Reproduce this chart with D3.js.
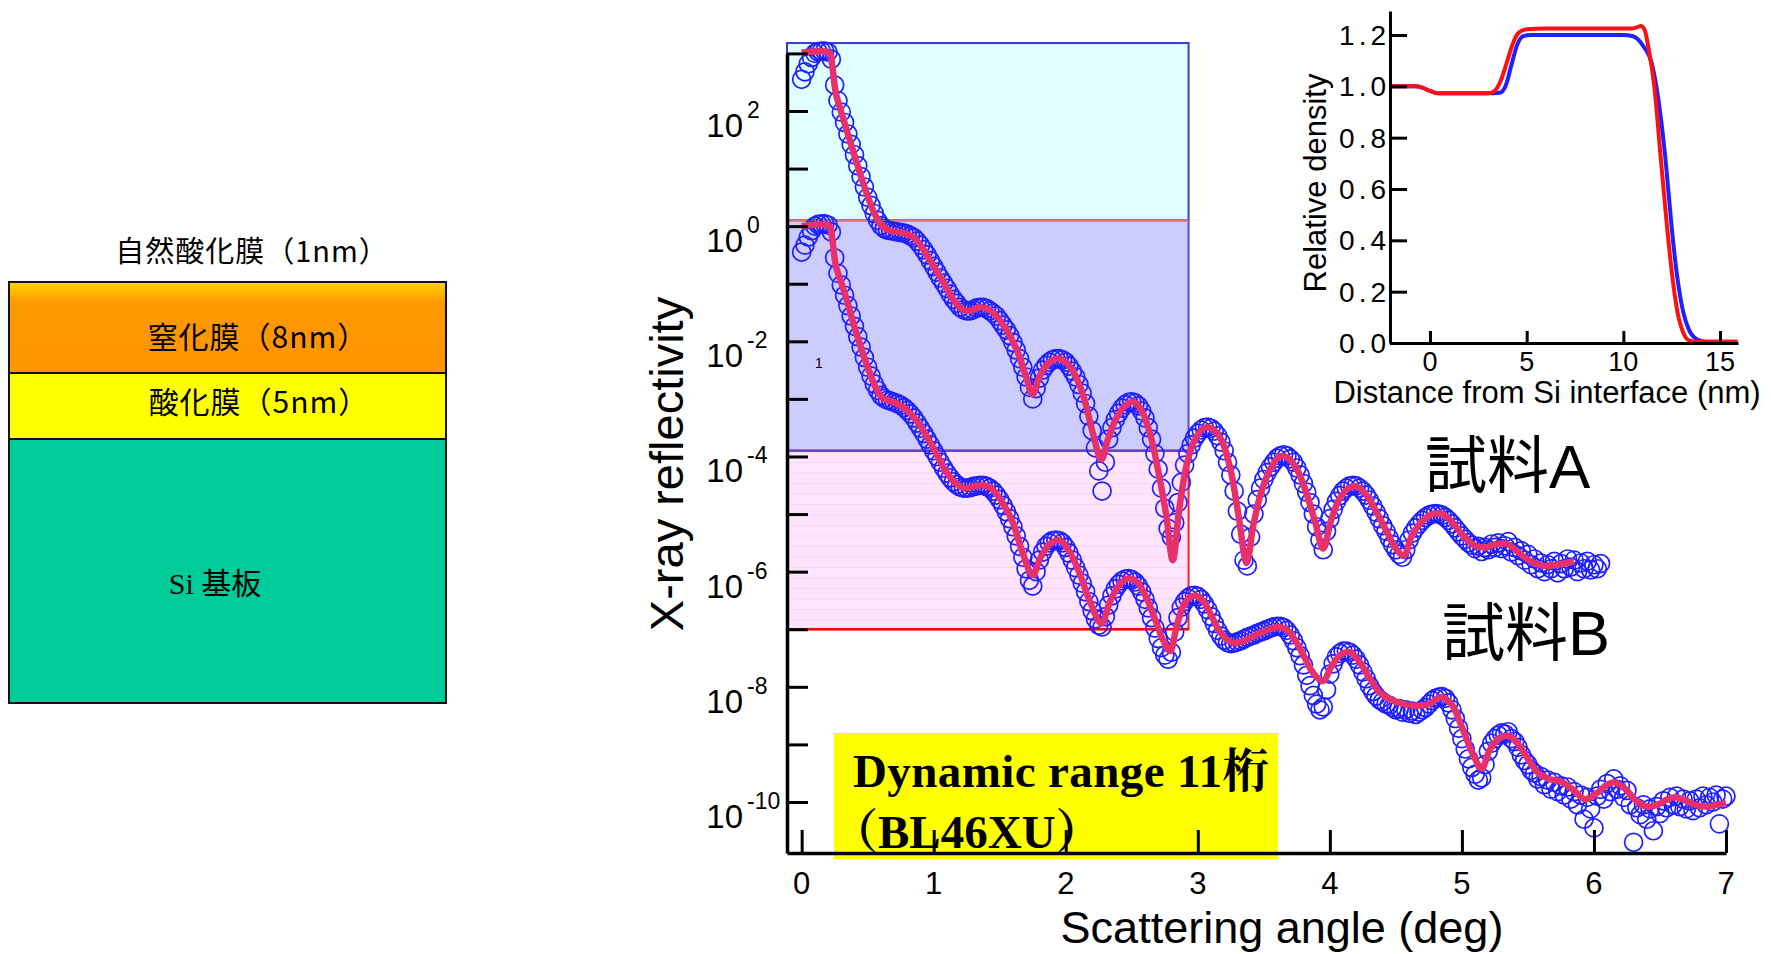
<!DOCTYPE html>
<html>
<head>
<meta charset="utf-8">
<script src="https://cdn.jsdelivr.net/npm/d3@7"></script>
<style>
  body { margin: 0; background: #fff; }
  svg { display: block; }
  text { font-family: "Liberation Sans", Arial, sans-serif; fill: #000; }
</style>
</head>
<body>
<svg id="chart" width="1771" height="954"></svg>
<script>

// ---------- data ----------

// layer stack schematic (left)
const topLayerLabel = "自然酸化膜（1nm）";
const layerLabels = ["窒化膜（8nm）", "酸化膜（5nm）", "Si 基板"];

// main reflectivity plot: exponents of 10
const yExpTicks = [3, 2, 1, 0, -1, -2, -3, -4, -5, -6, -7, -8, -9, -10];
const yExpLabels = [2, 0, -2, -4, -6, -8, -10];
const xTicks = [0, 1, 2, 3, 4, 5, 6, 7];
const sampleNames = ["試料A", "試料B"];
const rangeNote = ["Dynamic range 11桁", "（BL46XU）"];

// shaded bands (log10 R edges) and their right edge (deg)
const bandEdges = [3.18, 0.1, -3.9, -7.0];
const bandAngleMax = 2.93;

// fitted curves [angle (deg), log10 R]
const fitA = [[0.00,3.01],[0.21,3.01],[0.23,2.80],[0.26,2.30],[0.30,1.98],[0.35,1.60],[0.42,1.08],[0.50,0.52],[0.56,0.18],[0.61,0.00],[0.66,-0.07],[0.72,-0.10],[0.80,-0.14],[0.86,-0.22],[0.92,-0.40],[1.00,-0.70],[1.08,-1.00],[1.15,-1.28],[1.22,-1.45],[1.28,-1.47],[1.34,-1.41],[1.40,-1.43],[1.47,-1.55],[1.55,-1.80],[1.63,-2.15],[1.70,-2.62],[1.75,-2.92],[1.80,-2.62],[1.86,-2.40],[1.94,-2.30],[2.00,-2.36],[2.07,-2.58],[2.14,-3.00],[2.20,-3.55],[2.27,-4.05],[2.32,-3.70],[2.38,-3.35],[2.45,-3.12],[2.51,-3.05],[2.57,-3.18],[2.64,-3.62],[2.70,-4.25],[2.76,-5.00],[2.81,-5.80],[2.86,-4.90],[2.92,-4.10],[2.98,-3.70],[3.05,-3.50],[3.11,-3.52],[3.18,-3.72],[3.25,-4.25],[3.31,-5.05],[3.37,-5.85],[3.42,-5.20],[3.48,-4.62],[3.55,-4.22],[3.62,-4.00],[3.68,-4.02],[3.75,-4.22],[3.82,-4.62],[3.89,-5.15],[3.95,-5.60],[4.01,-5.10],[4.07,-4.75],[4.14,-4.55],[4.20,-4.52],[4.27,-4.65],[4.35,-4.95],[4.43,-5.30],[4.50,-5.60],[4.56,-5.72],[4.62,-5.38],[4.70,-5.12],[4.78,-5.00],[4.85,-5.00],[4.93,-5.15],[5.02,-5.40],[5.10,-5.55],[5.18,-5.58],[5.26,-5.52],[5.34,-5.52],[5.42,-5.65],[5.52,-5.82],[5.62,-5.90],[5.72,-5.88],[5.85,-5.82]];

const fitB = [[0.00,0.00],[0.21,0.00],[0.23,-0.20],[0.26,-0.70],[0.30,-0.98],[0.35,-1.35],[0.42,-1.90],[0.50,-2.45],[0.56,-2.80],[0.61,-2.98],[0.66,-3.03],[0.72,-3.08],[0.80,-3.20],[0.86,-3.35],[0.94,-3.62],[1.02,-3.95],[1.09,-4.25],[1.16,-4.45],[1.23,-4.55],[1.30,-4.52],[1.37,-4.50],[1.44,-4.56],[1.52,-4.80],[1.60,-5.15],[1.67,-5.65],[1.75,-6.06],[1.81,-5.75],[1.88,-5.52],[1.95,-5.45],[2.02,-5.62],[2.10,-6.00],[2.18,-6.50],[2.27,-6.90],[2.33,-6.55],[2.40,-6.25],[2.47,-6.12],[2.54,-6.18],[2.61,-6.45],[2.68,-6.85],[2.74,-7.20],[2.79,-7.38],[2.84,-6.95],[2.90,-6.55],[2.97,-6.42],[3.03,-6.48],[3.10,-6.75],[3.17,-7.05],[3.25,-7.22],[3.33,-7.22],[3.42,-7.12],[3.52,-7.02],[3.60,-6.96],[3.67,-7.00],[3.74,-7.20],[3.81,-7.50],[3.88,-7.78],[3.95,-7.90],[4.01,-7.65],[4.08,-7.45],[4.15,-7.40],[4.22,-7.55],[4.30,-7.85],[4.38,-8.10],[4.46,-8.22],[4.56,-8.30],[4.66,-8.33],[4.75,-8.30],[4.84,-8.18],[4.92,-8.30],[5.00,-8.70],[5.08,-9.15],[5.15,-9.42],[5.21,-9.10],[5.28,-8.90],[5.35,-8.85],[5.42,-8.98],[5.50,-9.25],[5.58,-9.50],[5.66,-9.60],[5.75,-9.65],[5.84,-9.78],[5.93,-9.95],[6.02,-9.85],[6.10,-9.70],[6.16,-9.66],[6.24,-9.78],[6.32,-9.98],[6.40,-10.08],[6.48,-10.05],[6.56,-9.95],[6.62,-9.92],[6.70,-9.98],[6.78,-10.06],[6.86,-10.08],[6.93,-10.05],[7.00,-10.02]];

// measured points, log10 R, one every 0.025 deg from 0
const measStep = 0.025;
const measA = [2.55,2.68,2.82,2.93,3.00,3.03,3.04,3.04,3.02,2.90,2.45,2.18,1.98,1.80,1.60,1.42,1.24,1.05,0.86,0.68,
0.50,0.36,0.22,0.10,0.01,-0.04,-0.07,-0.08,-0.09,-0.10,-0.11,-0.12,-0.14,-0.17,-0.20,-0.26,-0.33,-0.41,-0.50,-0.60,
-0.70,-0.80,-0.90,-0.99,-1.08,-1.18,-1.27,-1.34,-1.41,-1.45,-1.47,-1.47,-1.45,-1.42,-1.41,-1.41,-1.43,-1.47,-1.51,-1.56,
-1.64,-1.72,-1.80,-1.90,-2.02,-2.15,-2.30,-2.45,-2.62,-2.80,-3.00,-2.82,-2.64,-2.50,-2.42,-2.36,-2.32,-2.30,-2.30,-2.32,
-2.36,-2.43,-2.52,-2.62,-2.75,-2.90,-3.08,-3.30,-3.55,-3.85,-4.25,-4.60,-4.10,-3.70,-3.50,-3.36,-3.25,-3.16,-3.10,-3.06,
-3.05,-3.07,-3.12,-3.21,-3.33,-3.50,-3.70,-3.95,-4.22,-4.55,-4.90,-5.25,-5.40,-5.15,-4.80,-4.45,-4.15,-3.95,-3.80,-3.68,
-3.60,-3.54,-3.50,-3.49,-3.51,-3.56,-3.64,-3.75,-3.90,-4.10,-4.32,-4.60,-4.95,-5.35,-5.80,-5.90,-5.40,-5.00,-4.75,-4.55,
-4.40,-4.28,-4.18,-4.10,-4.03,-3.99,-3.97,-3.99,-4.04,-4.10,-4.20,-4.32,-4.47,-4.62,-4.80,-5.00,-5.22,-5.45,-5.62,-5.30,
-5.08,-4.92,-4.78,-4.68,-4.60,-4.55,-4.51,-4.50,-4.51,-4.55,-4.60,-4.67,-4.76,-4.86,-4.97,-5.08,-5.20,-5.30,-5.42,-5.53,
-5.62,-5.70,-5.75,-5.62,-5.45,-5.33,-5.24,-5.17,-5.11,-5.06,-5.02,-5.00,-4.99,-5.00,-5.02,-5.06,-5.11,-5.17,-5.24,-5.31,
-5.38,-5.44,-5.50,-5.54,-5.60,-5.56,-5.65,-5.58,-5.62,-5.52,-5.58,-5.50,-5.60,-5.55,-5.48,-5.66,-5.58,-5.72,-5.64,-5.80,
-5.70,-5.88,-5.78,-5.95,-5.85,-6.00,-5.88,-5.95,-5.82,-6.02,-5.86,-5.95,-5.78,-5.92,-5.80,-6.00,-5.85,-5.95,-5.82,-5.97,
-5.88,-5.95,-5.86];

const measB = [-0.45,-0.33,-0.19,-0.08,0.00,0.03,0.04,0.04,0.02,-0.10,-0.55,-0.82,-1.02,-1.20,-1.38,-1.56,-1.74,-1.92,-2.10,-2.28,
-2.45,-2.60,-2.74,-2.85,-2.94,-2.99,-3.02,-3.04,-3.06,-3.08,-3.11,-3.15,-3.20,-3.26,-3.33,-3.42,-3.51,-3.60,-3.70,-3.80,
-3.90,-4.00,-4.10,-4.20,-4.29,-4.37,-4.44,-4.49,-4.53,-4.55,-4.55,-4.54,-4.52,-4.51,-4.50,-4.50,-4.52,-4.55,-4.60,-4.67,
-4.75,-4.85,-4.96,-5.08,-5.22,-5.38,-5.56,-5.75,-5.95,-6.15,-6.25,-6.00,-5.80,-5.66,-5.56,-5.50,-5.46,-5.45,-5.46,-5.50,
-5.58,-5.68,-5.80,-5.93,-6.06,-6.20,-6.35,-6.52,-6.68,-6.82,-6.93,-6.96,-6.78,-6.58,-6.42,-6.30,-6.22,-6.16,-6.13,-6.12,
-6.14,-6.18,-6.25,-6.35,-6.48,-6.63,-6.80,-6.98,-7.16,-7.32,-7.45,-7.52,-7.40,-7.05,-6.80,-6.62,-6.52,-6.46,-6.42,-6.41,
-6.43,-6.48,-6.56,-6.66,-6.78,-6.90,-7.02,-7.12,-7.19,-7.23,-7.25,-7.24,-7.22,-7.20,-7.17,-7.14,-7.12,-7.10,-7.07,-7.05,
-7.03,-7.00,-6.98,-6.96,-6.95,-6.95,-6.97,-7.02,-7.10,-7.20,-7.32,-7.46,-7.62,-7.80,-7.98,-8.15,-8.30,-8.40,-8.35,-8.05,
-7.78,-7.60,-7.48,-7.42,-7.38,-7.38,-7.40,-7.45,-7.52,-7.62,-7.74,-7.86,-7.98,-8.08,-8.16,-8.22,-8.26,-8.30,-8.32,-8.36,
-8.40,-8.38,-8.44,-8.40,-8.46,-8.42,-8.48,-8.44,-8.40,-8.36,-8.30,-8.24,-8.20,-8.18,-8.17,-8.20,-8.28,-8.40,-8.55,-8.72,
-8.90,-9.08,-9.25,-9.40,-9.52,-9.62,-9.58,-9.35,-9.12,-8.98,-8.90,-8.84,-8.80,-8.82,-8.78,-8.90,-8.95,-9.05,-9.18,-9.28,
-9.35,-9.45,-9.50,-9.60,-9.56,-9.70,-9.62,-9.78,-9.66,-9.82,-9.72,-9.88,-9.74,-9.95,-9.82,-10.05,-9.88,-10.30,-9.92,-10.12,
-10.45,-9.90,-9.78,-9.95,-9.68,-9.82,-9.60,-9.78,-9.72,-9.92,-9.80,-10.05,-10.70,-10.10,-10.22,-10.05,-10.30,-10.12,-10.50,-10.08,
-10.20,-9.98,-10.10,-9.92,-10.05,-9.90,-10.08,-9.95,-10.12,-9.98,-10.15,-9.95,-10.10,-9.90,-10.05,-9.92,-10.00,-9.88,-10.38,-9.95,
-9.90];

// inset: density profiles [distance (nm), relative density]
const densityBlue = [[-2.07,1.0],[-0.8,1.0],[-0.4,0.995],[0.0,0.982],[0.4,0.973],[1.0,0.973],[3.0,0.973],[3.6,0.975],[3.9,1.0],[4.2,1.08],[4.5,1.16],[4.8,1.195],[5.2,1.2],[10.0,1.2],[10.5,1.195],[11.0,1.16],[11.5,1.08],[11.9,0.9],[12.2,0.7],[12.5,0.45],[12.8,0.25],[13.1,0.12],[13.4,0.05],[13.8,0.015],[14.3,0.005],[15.9,0.005]];
const densityRed = [[-2.07,1.0],[-0.8,1.0],[-0.4,0.995],[0.0,0.982],[0.4,0.973],[3.0,0.973],[3.3,0.98],[3.7,1.03],[4.0,1.1],[4.3,1.17],[4.6,1.21],[5.0,1.222],[6.0,1.225],[10.4,1.225],[10.7,1.23],[10.9,1.235],[11.1,1.22],[11.3,1.15],[11.6,1.0],[11.9,0.75],[12.2,0.5],[12.5,0.28],[12.8,0.12],[13.1,0.04],[13.4,0.01],[13.8,0.005],[15.9,0.005]];
const insetYTicks = [0, 0.2, 0.4, 0.6, 0.8, 1.0, 1.2];
const insetXTicks = [0, 5, 10, 15];

// ---------- drawing ----------
const svg = d3.select("#chart");
const defs = svg.append("defs");

// left schematic
const stack = { x: 9, w: 437, tops: [282, 373, 439], bottom: 703 };
const layerFill = ["url(#orangeGrad)", "#ffff00", "#00cc99"];
const og = defs.append("linearGradient").attr("id", "orangeGrad")
    .attr("x1", 0).attr("y1", 0).attr("x2", 0).attr("y2", 1);
og.append("stop").attr("offset", "0").attr("stop-color", "#ffd400");
og.append("stop").attr("offset", "0.22").attr("stop-color", "#ff9a00");
og.append("stop").attr("offset", "1").attr("stop-color", "#ff9400");

const left = svg.append("g");
layerLabels.forEach(function(name, i) {
  const y0 = stack.tops[i];
  const y1 = i < 2 ? stack.tops[i + 1] : stack.bottom;
  left.append("rect")
      .attr("x", stack.x).attr("y", y0)
      .attr("width", stack.w).attr("height", y1 - y0)
      .attr("fill", layerFill[i])
      .attr("stroke", "#111").attr("stroke-width", 2);
});
const jpFont = "'Noto Sans CJK JP', sans-serif";
left.append("text").attr("x", 252).attr("y", 262)
    .attr("text-anchor", "middle").attr("font-size", 29).attr("letter-spacing", 1)
    .style("font-family", jpFont)
    .text(topLayerLabel);
left.append("text").attr("x", 258).attr("y", 348)
    .attr("text-anchor", "middle").attr("font-size", 30).attr("letter-spacing", 1)
    .style("font-family", jpFont)
    .text(layerLabels[0]);
left.append("text").attr("x", 259).attr("y", 413)
    .attr("text-anchor", "middle").attr("font-size", 30).attr("letter-spacing", 1)
    .style("font-family", jpFont)
    .text(layerLabels[1]);
left.append("text").attr("x", 215).attr("y", 594)
    .attr("text-anchor", "middle").attr("font-size", 30)
    .style("font-family", "'Liberation Serif', 'Noto Sans CJK JP', serif")
    .text(layerLabels[2]);

// main plot scales
const x = d3.scaleLinear().domain([-0.111, 7]).range([787, 1726]);
const y = d3.scaleLog().domain([Math.pow(10, -10.886), Math.pow(10, 3.007)]).range([853, 53]);
const p10 = e => Math.pow(10, e);

// background bands
const stripe = defs.append("pattern").attr("id", "pinkStripe")
    .attr("patternUnits", "userSpaceOnUse").attr("width", 20).attr("height", 10.5);
stripe.append("rect").attr("width", 20).attr("height", 10.5).attr("fill", "#ffe4fe");
stripe.append("rect").attr("width", 20).attr("height", 1).attr("fill", "#fbd2f8");

const bandFill = ["#e0ffff", "#ccccff", "url(#pinkStripe)"];
const bandStroke = ["#3a3ad0", "#5050d8", "#ff2020"];
const bands = svg.append("g");
for (let i = 0; i < 3; i++) {
  bands.append("rect")
      .attr("x", x(-0.111)).attr("y", y(p10(bandEdges[i])))
      .attr("width", x(bandAngleMax) - x(-0.111))
      .attr("height", y(p10(bandEdges[i + 1])) - y(p10(bandEdges[i])))
      .attr("fill", bandFill[i])
      .attr("stroke", bandStroke[i]).attr("stroke-width", 2);
}
// separator lines between bands
const sepColor = ["#ee7070", "#4848d8", "#ff0000"];
for (let i = 1; i < 4; i++) {
  bands.append("line")
      .attr("x1", x(-0.111)).attr("x2", x(bandAngleMax))
      .attr("y1", y(p10(bandEdges[i]))).attr("y2", y(p10(bandEdges[i])))
      .attr("stroke", sepColor[i - 1]).attr("stroke-width", i === 3 ? 2.5 : 2);
}

// yellow note box
const noteFont = "'Liberation Serif', 'Noto Serif CJK JP', 'Noto Sans CJK JP', serif";
const note = svg.append("g");
note.append("rect").attr("x", 834).attr("y", 733).attr("width", 444).attr("height", 126)
    .attr("fill", "#ffff00");
note.append("text").attr("x", 853).attr("y", 787)
    .attr("font-size", 47).attr("font-weight", "bold").attr("letter-spacing", 0.4)
    .style("font-family", noteFont)
    .text(rangeNote[0]);
note.append("text").attr("x", 831).attr("y", 848)
    .attr("font-size", 47).attr("font-weight", "bold")
    .style("font-family", noteFont)
    .text(rangeNote[1]);

// measured circles
const circles = svg.append("g").attr("fill", "none").attr("stroke", "#1f1fff").attr("stroke-width", 1.7);
[measA, measB].forEach(function(series) {
  circles.selectAll(null)
      .data(series)
      .enter().append("circle")
      .attr("cx", (d, i) => x(i * measStep))
      .attr("cy", d => y(p10(d)))
      .attr("r", 9);
});

// fitted lines
const fitLine = d3.line()
    .x(d => x(d[0]))
    .y(d => y(p10(d[1])))
    .curve(d3.curveCatmullRom.alpha(0.5));
[fitA, fitB].forEach(function(series) {
  svg.append("path")
      .datum(series)
      .attr("fill", "none")
      .attr("stroke", "#e8306b")
      .attr("stroke-width", 6.5)
      .attr("stroke-linejoin", "round")
      .attr("d", fitLine);
});

// axes
const yAxis = svg.append("g").attr("transform", "translate(787,0)")
    .call(d3.axisLeft(y).tickValues(yExpTicks.map(p10)).tickSizeInner(-21).tickSizeOuter(0).tickFormat(""));
const xAxis = svg.append("g").attr("transform", "translate(0,853)")
    .call(d3.axisBottom(x).tickValues(xTicks).tickSizeInner(-23).tickSizeOuter(0).tickFormat(""));
[yAxis, xAxis].forEach(function(a) {
  a.select(".domain").attr("stroke", "#000").attr("stroke-width", 3.5);
  a.selectAll(".tick line").attr("stroke", "#000").attr("stroke-width", 3);
});

// y tick labels with superscripts
yExpLabels.forEach(function(e) {
  const ty = y(p10(e));
  svg.append("text").attr("x", 743).attr("y", ty + 26)
      .attr("text-anchor", "end").attr("font-size", 33).text("10");
  svg.append("text").attr("x", 747).attr("y", ty + 7)
      .attr("font-size", 23).text(String(e));
});
// stray mark next to the axis
svg.append("text").attr("x", 815).attr("y", 368).attr("font-size", 14).text("1");

// x tick labels
xTicks.forEach(function(t) {
  svg.append("text").attr("x", x(t)).attr("y", 894)
      .attr("text-anchor", "middle").attr("font-size", 31).text(t);
});

svg.append("text").attr("x", 1282).attr("y", 943)
    .attr("text-anchor", "middle").attr("font-size", 45)
    .text("Scattering angle (deg)");
svg.append("text").attr("transform", "translate(683,464) rotate(-90)")
    .attr("text-anchor", "middle").attr("font-size", 47)
    .text("X-ray reflectivity");

// sample labels
svg.append("text").attr("x", 1425).attr("y", 488).attr("font-size", 62)
    .style("font-family", "'Liberation Sans', 'Noto Sans CJK JP', sans-serif")
    .text(sampleNames[0]);
svg.append("text").attr("x", 1442).attr("y", 655).attr("font-size", 63)
    .style("font-family", "'Liberation Sans', 'Noto Sans CJK JP', sans-serif")
    .text(sampleNames[1]);

// ---------- inset: density profile ----------
const ix = d3.scaleLinear().domain([-2.07, 15.93]).range([1390, 1738]);
const iy = d3.scaleLinear().domain([0, 1.2935]).range([343, 11]);

const densLine = d3.line()
    .x(d => ix(d[0]))
    .y(d => iy(d[1]))
    .curve(d3.curveMonotoneX);
svg.append("path").datum(densityBlue)
    .attr("fill", "none").attr("stroke", "#2020ff").attr("stroke-width", 4)
    .attr("d", densLine);
svg.append("path").datum(densityRed)
    .attr("fill", "none").attr("stroke", "#ff1010").attr("stroke-width", 4)
    .attr("d", densLine);

const iyAxis = svg.append("g").attr("transform", "translate(1390,0)")
    .call(d3.axisLeft(iy).tickValues(insetYTicks).tickSizeInner(-17).tickSizeOuter(0).tickFormat(""));
const ixAxis = svg.append("g").attr("transform", "translate(0,343)")
    .call(d3.axisBottom(ix).tickValues(insetXTicks).tickSizeInner(-12).tickSizeOuter(0).tickFormat(""));
[iyAxis, ixAxis].forEach(function(a) {
  a.select(".domain").attr("stroke", "#000").attr("stroke-width", 3);
  a.selectAll(".tick line").attr("stroke", "#000").attr("stroke-width", 3);
});

insetYTicks.forEach(function(t) {
  svg.append("text").attr("x", 1390).attr("y", iy(t) + 10)
      .attr("text-anchor", "end").attr("font-size", 28)
      .attr("letter-spacing", 4)
      .text(t.toFixed(1));
});
insetXTicks.forEach(function(t) {
  svg.append("text").attr("x", ix(t)).attr("y", 371)
      .attr("text-anchor", "middle").attr("font-size", 27).text(t);
});
svg.append("text").attr("x", 1547).attr("y", 403)
    .attr("text-anchor", "middle").attr("font-size", 31)
    .text("Distance from Si interface (nm)");
svg.append("text").attr("transform", "translate(1326,183) rotate(-90)")
    .attr("text-anchor", "middle").attr("font-size", 31)
    .text("Relative density");

</script>
</body>
</html>
